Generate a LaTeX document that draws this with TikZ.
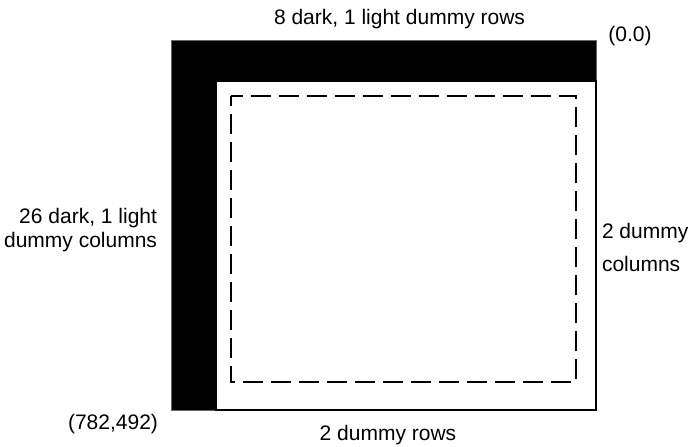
\documentclass[tikz,border=0pt]{standalone}
\usepackage{fontspec}
\setmainfont{Liberation Sans}
\begin{document}
\begin{tikzpicture}[x=1pt,y=-1pt,
  lbl/.style={inner sep=0pt,outer sep=0pt,font=\fontsize{21}{24}\selectfont},
  dummyedge/.style={fill=black,draw=black!60,line width=0.8pt},
  imagearea/.style={fill=white,draw=black,line width=1.4pt},
  activearea/.style={draw=black,line width=1.5pt,dash pattern=on 20pt off 8pt,dash phase=10pt}]
\useasboundingbox (0,0) rectangle (691,447);
\path[dummyedge] (171,40) rectangle (596,410);
\path[imagearea] (216,81) rectangle (596,410);
\path[activearea] (231,96) rectangle (576,382);
\node[lbl,anchor=base] (top) at (399.5,24) {8 dark, 1 light dummy rows};
\node[lbl,anchor=base] (origin) at (630,41) {(0.0)};
\node[lbl,anchor=base east] (left1) at (157,223) {26 dark, 1 light};
\node[lbl,anchor=base east] (left2) at (157,247) {dummy columns};
\node[lbl,anchor=base west] (right1) at (602,238) {2 dummy};
\node[lbl,anchor=base west] (right2) at (602,271) {columns};
\node[lbl,anchor=base] (corner) at (113,429) {(782,492)};
\node[lbl,anchor=base] (bottom) at (388,440) {2 dummy rows};
\end{tikzpicture}
\end{document}
